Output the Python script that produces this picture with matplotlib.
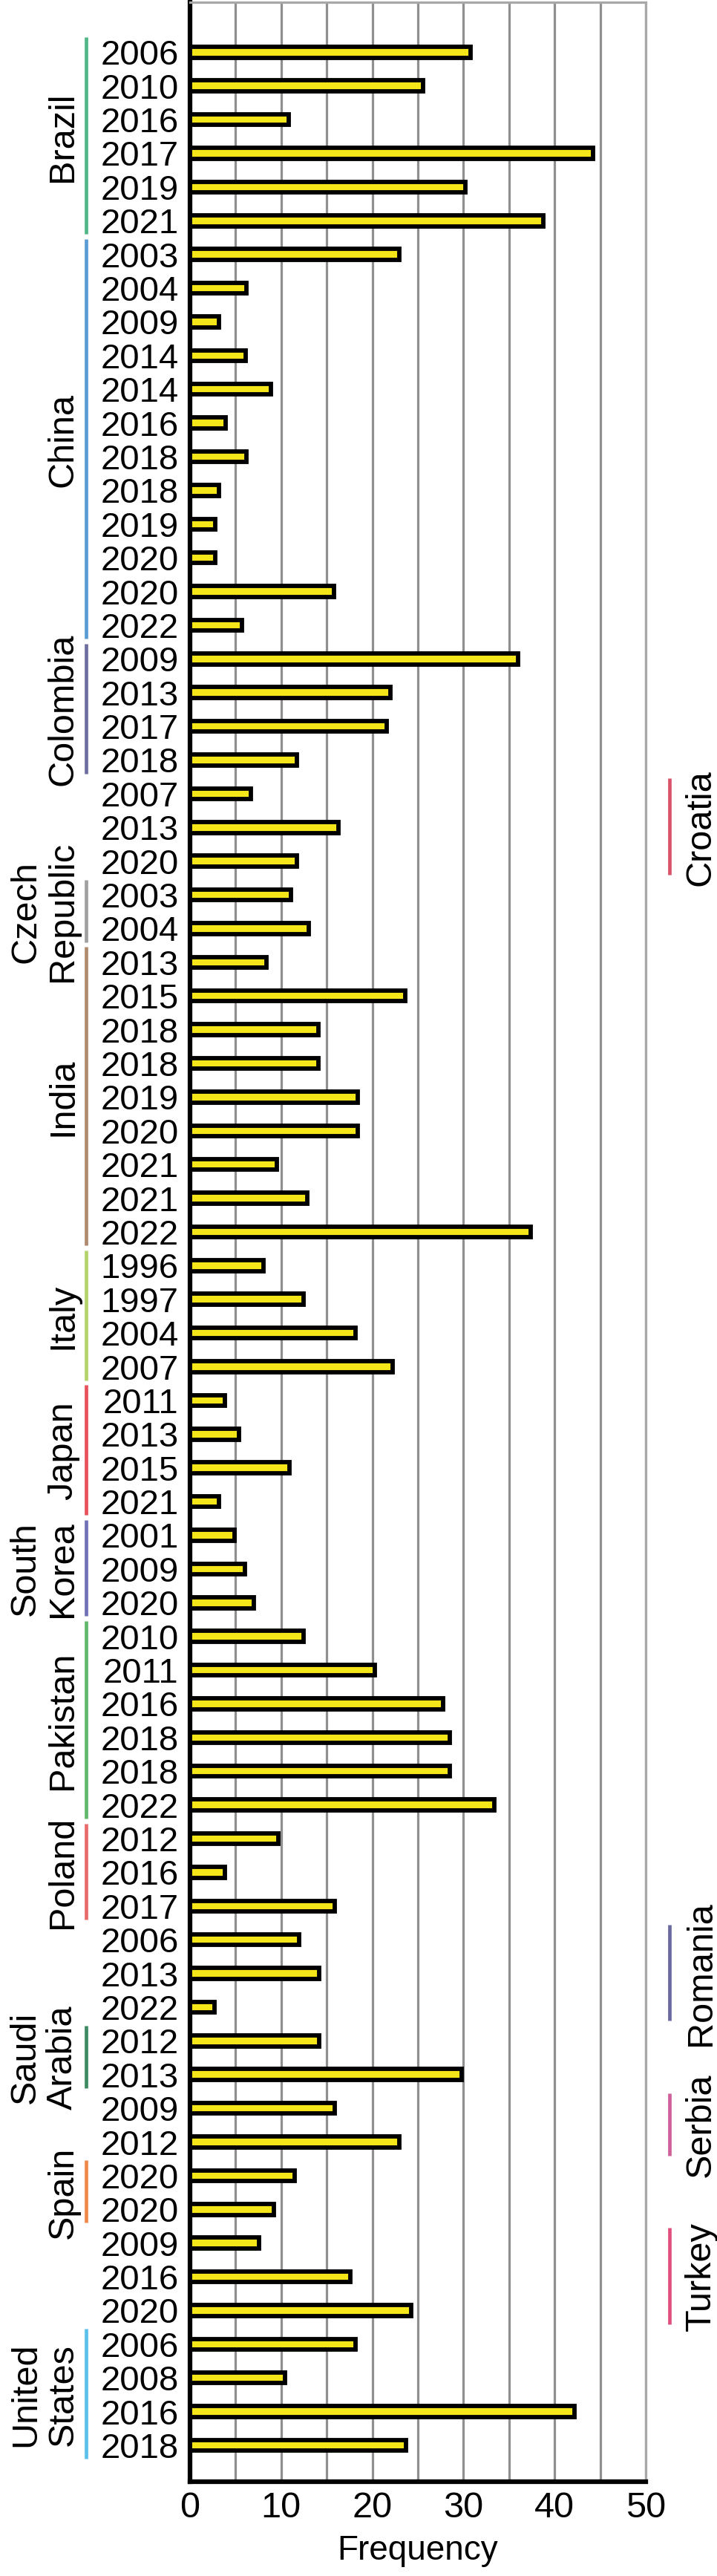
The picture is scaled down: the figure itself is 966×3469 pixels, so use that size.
import numpy as np
import matplotlib
matplotlib.use("Agg")
import matplotlib.pyplot as plt

plt.rcParams["font.family"] = ["Liberation Sans", "DejaVu Sans"]

# ── Data ──────────────────────────────────────────────────────────────
COUNTRIES = [
    "Brazil", "China", "Colombia", "Croatia", "Czech\nRepublic", "India",
    "Italy", "Japan", "South\nKorea", "Pakistan", "Poland", "Romania",
    "Saudi\nArabia", "Serbia", "Spain", "Turkey", "United\nStates",
]
YEARS = [
    [2006, 2010, 2016, 2017, 2019, 2021],
    [2003, 2004, 2009, 2014, 2014, 2016, 2018, 2018, 2019, 2020, 2020, 2022],
    [2009, 2013, 2017, 2018],
    [2007, 2013, 2020],
    [2003, 2004],
    [2013, 2015, 2018, 2018, 2019, 2020, 2021, 2021, 2022],
    [1996, 1997, 2004, 2007],
    [2011, 2013, 2015, 2021],
    [2001, 2009, 2020],
    [2010, 2011, 2016, 2018, 2018, 2022],
    [2012, 2016, 2017],
    [2006, 2013, 2022],
    [2012, 2013],
    [2009, 2012],
    [2020, 2020],
    [2009, 2016, 2020],
    [2006, 2008, 2016, 2018],
]
FREQ = [
    [30.8, 25.6, 10.8, 44.2, 30.2, 38.8],
    [23.0, 6.2, 3.2, 6.1, 8.9, 3.9, 6.2, 3.2, 2.8, 2.8, 15.8, 5.7],
    [36.0, 22.0, 21.6, 11.7],
    [6.7, 16.3, 11.7],
    [11.1, 13.0],
    [8.4, 23.6, 14.1, 14.1, 18.4, 18.4, 9.5, 12.9, 37.4],
    [8.1, 12.5, 18.2, 22.2],
    [3.8, 5.4, 10.9, 3.2],
    [4.9, 6.0, 7.0],
    [12.5, 20.3, 27.8, 28.5, 28.5, 33.4],
    [9.7, 3.8, 15.9],
    [12.0, 14.2, 2.7],
    [14.2, 29.8],
    [15.9, 23.0],
    [11.5, 9.2],
    [7.6, 17.6, 24.3],
    [18.2, 10.4, 42.2, 23.7],
]
GROUP_COLORS = [
    "#52b788", "#5b9bd5", "#6e6ea0", "#d9536b", "#a0a0a0", "#b08a6e",
    "#b5d36b", "#e8505b", "#7070b8", "#62b86a", "#e86a6a", "#6a6aa0",
    "#3d8a63", "#d0609a", "#f0884a", "#e0507f", "#5bc0eb",
]
RIGHT_SIDE = {"Croatia", "Romania", "Serbia", "Turkey"}

X_TICKS = [0, 10, 20, 30, 40, 50]

# ── Flatten ───────────────────────────────────────────────────────────
year_labels = [str(y) for ys in YEARS for y in ys]
values = [v for vs in FREQ for v in vs]
ypos = np.arange(len(values))

# ── Figure ────────────────────────────────────────────────────────────
fig = plt.figure(figsize=(9.66, 34.69), dpi=100, facecolor="white")
ax = fig.add_axes([0.265, 0.0366, 0.6356, 0.9625])

ax.barh(ypos, values, height=0.32, color="#f5e61a",
        edgecolor="black", linewidth=4.2, zorder=3)

ax.set_xlim(0, 50)
ax.set_ylim(len(values) - 1 + 1.08, -1.48)
ax.set_xticks(X_TICKS)
ax.set_xticks(np.arange(0, 51, 5), minor=True)
ax.xaxis.grid(True, which="both", color="#8f8f8f", linewidth=2.3)
ax.set_axisbelow(True)

ax.set_yticks(ypos)
ax.set_yticklabels(year_labels, fontsize=34)
ax.tick_params(axis="y", length=0, pad=11)
ax.tick_params(axis="x", which="both", length=0, pad=9, labelsize=35)
ax.set_xlabel("Frequency", fontsize=33, labelpad=10)

for side in ("top", "right"):
    ax.spines[side].set_color("#a8a8a8")
    ax.spines[side].set_linewidth(2.3)
for side in ("left", "bottom"):
    ax.spines[side].set_color("black")
    ax.spines[side].set_linewidth(4.5)

# ── Group brackets and labels ─────────────────────────────────────────
trans = ax.get_yaxis_transform()
start = 0
for name, ys, color in zip(COUNTRIES, YEARS, GROUP_COLORS):
    first, last = start, start + len(ys) - 1
    start += len(ys)
    mid = (first + last) / 2
    if name in RIGHT_SIDE:
        line_x, text_x = 1.052, 1.158
    else:
        line_x, text_x = -0.228, -0.242
    ax.plot([line_x, line_x], [first - 0.45, last + 0.4], color=color,
            linewidth=3.4, transform=trans, clip_on=False,
            solid_capstyle="butt")
    ax.text(text_x, mid, name, transform=trans, rotation=90,
            ha="right", va="center", multialignment="center",
            fontsize=35, linespacing=1.15)

fig.savefig("out.png", dpi=100, facecolor="white")
